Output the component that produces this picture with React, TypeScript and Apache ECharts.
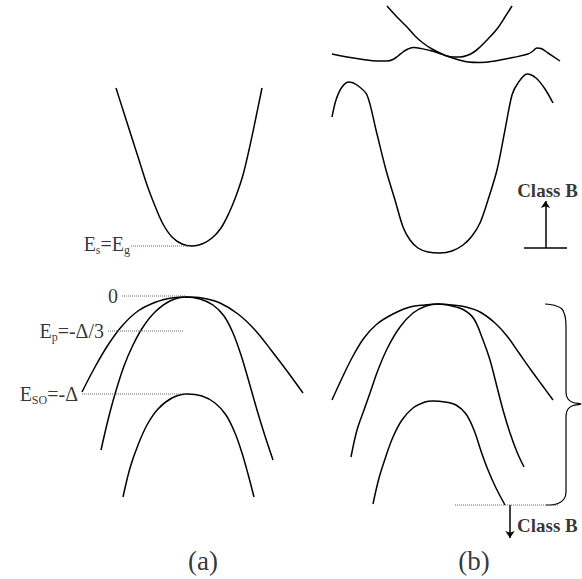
import React, { useEffect, useRef } from "react";
import * as echarts from "echarts";

type P = [number, number];

// Drawing frame: wave vector runs along x, energy runs downward along y.
const frameX: P = [0, 582];
const frameY: P = [0, 579];

// ---- Panel (a): zinc-blende band edges ----
const condA: P[] = [
  [116, 88], [123, 110], [131, 135], [139, 160], [147, 185], [155, 206], [163, 224],
  [172, 237], [182, 244], [192, 246], [202, 244], [212, 238], [221, 228], [229, 213],
  [236, 196], [243, 175], [249, 150], [255, 122], [262, 88],
];
const heavyA: P[] = [
  [82, 392], [95, 367], [108, 345], [122, 326], [138, 311], [156, 302], [172, 298],
  [186, 297], [202, 298], [220, 303], [238, 314], [255, 330], [271, 350], [287, 371], [303, 393],
];
const lightA: P[] = [
  [101, 450], [108, 420], [115, 394], [124, 366], [133, 345], [143, 327], [155, 312],
  [170, 301], [186, 297], [200, 299], [213, 305], [224, 316], [233, 333], [241, 355],
  [249, 382], [257, 410], [265, 436], [273, 460],
];
const splitA: P[] = [
  [123, 497], [130, 468], [138, 445], [147, 425], [158, 409], [172, 398], [187, 394],
  [202, 396], [215, 403], [226, 415], [235, 433], [242, 453], [248, 474], [254, 497],
];

// ---- Panel (b): modified band structure ----
const upperB: P[] = [
  [387, 6], [397, 17], [407, 27], [415, 36], [423, 43], [432, 49], [440, 53], [447, 56],
  [453, 57], [460, 57], [467, 55.5], [474, 52], [480, 47], [488, 39], [497, 29], [505, 17], [512, 6],
];
const flatB: P[] = [
  [332, 54], [347, 57], [363, 59.5], [377, 61], [387, 61], [393, 59.5], [398, 56], [403, 52],
  [408, 49], [414, 47.5], [421, 48.5], [432, 51], [444, 55], [456, 59], [468, 62], [480, 62.5],
  [495, 61], [513, 57.5], [528, 54], [533, 51], [537, 48], [541, 48.5], [548, 53], [560, 61],
];
const condB: P[] = [
  [332, 117], [336, 100], [342, 87], [349, 82], [357, 85], [367, 95], [376, 130], [386, 170],
  [395, 200], [403, 227], [410, 240], [418, 248], [428, 252], [440, 253], [452, 251],
  [463, 245], [472, 236], [480, 223], [488, 200], [497, 170], [505, 130], [512, 95],
  [518, 83], [527, 74], [536, 78], [545, 89], [553, 103],
];
const heavyB: P[] = [
  [332, 400], [343, 376], [353, 356], [364, 338], [377, 324], [393, 314], [410, 307],
  [425, 305], [438, 304], [452, 305], [466, 307], [480, 312], [495, 323], [507, 336],
  [519, 353], [531, 370], [542, 385], [553, 400],
];
const lightB: P[] = [
  [351, 457], [357, 430], [364, 410], [370, 393], [378, 370], [388, 347], [400, 327],
  [413, 313], [426, 306], [438, 304], [452, 306], [464, 310], [474, 319], [483, 340],
  [490, 360], [496, 383], [503, 410], [510, 433], [517, 452], [524, 467],
];
const splitB: P[] = [
  [373, 504], [379, 478], [386, 456], [393, 437], [402, 420], [413, 408], [425, 402],
  [433, 401], [445, 402], [456, 405], [466, 414], [474, 430], [481, 451], [488, 470],
  [496, 488], [505, 505],
];
const brace: P[] = [
  [545, 304], [555, 305.5], [562, 309], [565, 316], [566, 326], [566, 392], [568, 399],
  [573, 402.5], [581, 404], [573, 405.5], [568, 409], [566, 416], [566, 492], [564, 499],
  [558, 503.5], [550, 505], [546, 505],
];

// ---- Reference energy levels of panel (a) ----
const levelLabels = [
  "{m|E}{s|s}{m|=E}{s|g}",
  "{m|0}",
  "{m|E}{s|p}{m|=-Δ/3}",
  "{m|E}{s|SO}{m|=-Δ}",
];
const levelE = [246, 296, 331, 394];
const levelStart = [131, 122, 108, 82];
const levelEnd = [189, 185, 183, 186];

// Bottom of the valence-band window in panel (b)
const windowE = 505;
const windowSpan: P = [455, 558];

// Class B shifts: upward from the conduction minimum, downward from the window bottom
const shiftUp: [P, P] = [[545.5, 248], [545.5, 201]];
const shiftUpBase: [P, P] = [[524, 248], [567, 248]];
const shiftDown: [P, P] = [[510, 505], [510, 538]];
const shiftLabel = "Class B";

// Panel captions
const captions = ["(a)", "(b)"];
const captionK = [203, 474];
const captionE = 561;

const serif = "'Liberation Serif', 'Times New Roman', serif";

function curve(data: P[], width = 1.5, smooth = 0.35) {
  return {
    type: "line",
    data,
    smooth,
    symbol: "none",
    silent: true,
    lineStyle: { color: "#000", width },
  };
}

function dotted(a: P, b: P) {
  return {
    type: "line",
    data: [a, b],
    symbol: "none",
    silent: true,
    lineStyle: { color: "#666", width: 1, type: [1, 1] },
  };
}

export default function App() {
  const ref = useRef<HTMLDivElement>(null);

  useEffect(() => {
    if (!ref.current) return;
    const chart = echarts.init(ref.current, null, { renderer: "svg" });

    const levelSeries = levelE.map((e, i) => dotted([levelStart[i], e], [levelEnd[i], e]));

    const levelLabelSeries = {
      type: "scatter",
      symbolSize: 0,
      silent: true,
      data: levelE.map((e, i) => ({
        value: [levelStart[i], e],
        label: {
          show: true,
          position: "left",
          distance: i === 0 ? 1 : 4,
          offset: i === 0 ? [0, -2] : [0, 0],
          formatter: levelLabels[i],
          rich: {
            m: { fontFamily: serif, fontSize: 20, color: "#000", lineHeight: 24 },
            s: { fontFamily: serif, fontSize: 12, color: "#000", lineHeight: 14, verticalAlign: "bottom" },
          },
        },
      })),
    };

    const classSeries = {
      type: "scatter",
      symbolSize: 0,
      silent: true,
      data: [
        {
          value: shiftUp[1],
          label: { show: true, position: "inside", offset: [2, -11], formatter: shiftLabel },
        },
        {
          value: [shiftDown[0][0], (shiftDown[0][1] + shiftDown[1][1]) / 2],
          label: { show: true, position: "right", distance: 7, offset: [0, 3.5], formatter: shiftLabel },
        },
      ],
      label: { fontFamily: serif, fontSize: 19, fontWeight: "bold", color: "#000" },
    };

    const captionSeries = {
      type: "scatter",
      symbolSize: 0,
      silent: true,
      data: captions.map((c, i) => ({ value: [captionK[i], captionE], name: c })),
      label: {
        show: true,
        position: "inside",
        formatter: (p: any) => p.name,
        fontFamily: serif,
        fontSize: 27,
        color: "#000",
      },
    };

    const arrows = {
      type: "lines",
      coordinateSystem: "cartesian2d",
      silent: true,
      symbol: ["none", "arrow"],
      symbolSize: 7,
      lineStyle: { color: "#000", width: 1.5, opacity: 1 },
      data: [{ coords: shiftUp }, { coords: shiftDown }],
    };

    chart.setOption({
      animation: false,
      backgroundColor: "#fff",
      grid: { left: 0, right: 0, top: 0, bottom: 0 },
      xAxis: { type: "value", min: frameX[0], max: frameX[1], show: false },
      yAxis: { type: "value", min: frameY[0], max: frameY[1], inverse: true, show: false },
      series: [
        curve(condA),
        curve(heavyA),
        curve(lightA),
        curve(splitA),
        curve(upperB),
        curve(flatB, 1.5, 0.4),
        curve(condB, 1.5, 0.3),
        curve(heavyB),
        curve(lightB),
        curve(splitB),
        curve(brace, 1.2, 0.3),
        ...levelSeries,
        dotted([windowSpan[0], windowE], [windowSpan[1], windowE]),
        {
          type: "line",
          data: shiftUpBase,
          symbol: "none",
          silent: true,
          lineStyle: { color: "#000", width: 1.5 },
        },
        arrows,
        levelLabelSeries,
        classSeries,
        captionSeries,
      ],
    });

    return () => chart.dispose();
  }, []);

  return (
    <div
      ref={ref}
      style={{ position: "fixed", left: 0, top: 0, width: 582, height: 579, background: "#fff" }}
    />
  );
}
